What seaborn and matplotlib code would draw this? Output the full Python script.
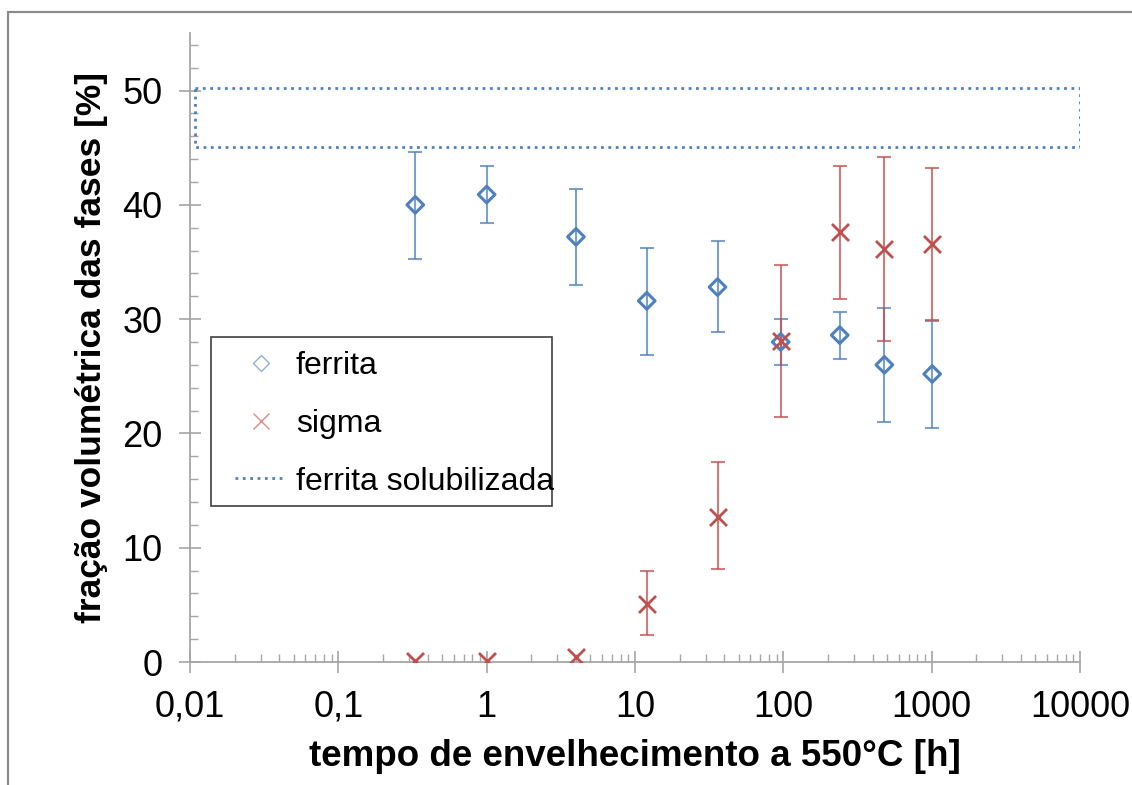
import numpy as np
import pandas as pd
import matplotlib
matplotlib.use("Agg")
import matplotlib.pyplot as plt
import seaborn as sns
from matplotlib.lines import Line2D
from matplotlib.patches import Rectangle
from matplotlib.ticker import FixedLocator, MultipleLocator, FixedFormatter

# ---------------- data ----------------
tempo = [0.33, 1, 4, 12, 36, 96, 240, 480, 1008]
ferrita = [40.0, 40.9, 37.2, 31.6, 32.8, 28.0, 28.6, 26.0, 25.2]
ferrita_low = [35.3, 38.4, 33.0, 26.9, 28.9, 26.0, 26.5, 21.0, 20.5]
ferrita_high = [44.6, 43.4, 41.4, 36.2, 36.8, 30.0, 30.6, 31.0, 29.8]
sigma = [0.1, 0.1, 0.4, 5.1, 12.7, 28.1, 37.6, 36.1, 36.6]
sigma_low = [None, None, None, 2.4, 8.1, 21.4, 31.8, 28.1, 29.9]
sigma_high = [None, None, None, 8.0, 17.5, 34.7, 43.4, 44.2, 43.2]
sol_x = [0.0108, 10000, 10000, 0.0108, 0.0108]
sol_y = [50.2, 50.2, 45.1, 45.1, 50.2]
xticks = [0.01, 0.1, 1, 10, 100, 1000, 10000]
xticklabels = ["0,01", "0,1", "1", "10", "100", "1000", "10000"]
yticks = [0, 10, 20, 30, 40, 50]

BLUE = "#4F81BD"
RED = "#C0504D"
GRAY = "#A6A6A6"

sns.set_style("white")
plt.rcParams["font.family"] = ["Liberation Sans", "DejaVu Sans"]
plt.rcParams["text.color"] = "black"
plt.rcParams["axes.labelcolor"] = "black"

fig = plt.figure(figsize=(11.32, 7.85), dpi=100)
W, H = 1132, 785
ax = fig.add_axes([190/W, 1-662/H, 890/W, (662-33.4)/H])

df_f = pd.DataFrame({"t": tempo, "v": ferrita})
df_s = pd.DataFrame({"t": tempo, "v": sigma})
df_sol = pd.DataFrame({"t": sol_x, "v": sol_y})

# ferrita solubilizada rectangle (dotted)
sns.lineplot(data=df_sol, x="t", y="v", sort=False, estimator=None, ax=ax,
             color=BLUE, lw=2.0, linestyle=":", legend=False)

# error bars
f_err = np.array([[f - lo for f, lo in zip(ferrita, ferrita_low)],
                  [hi - f for f, hi in zip(ferrita, ferrita_high)]])
ax.errorbar(tempo, ferrita, yerr=f_err, fmt="none", ecolor=BLUE, alpha=0.75,
            elinewidth=1.5, capsize=5, capthick=1.5, zorder=2)
idx = [i for i, lo in enumerate(sigma_low) if lo is not None]
s_t = [tempo[i] for i in idx]
s_v = [sigma[i] for i in idx]
s_err = np.array([[sigma[i] - sigma_low[i] for i in idx],
                  [sigma_high[i] - sigma[i] for i in idx]])
ax.errorbar(s_t, s_v, yerr=s_err, fmt="none", ecolor=RED, alpha=0.75,
            elinewidth=1.5, capsize=5, capthick=1.5, zorder=2)

# markers
sns.scatterplot(data=df_f, x="t", y="v", ax=ax, marker="D", s=72,
                facecolors="none", edgecolor=BLUE, linewidth=2.2, zorder=4, legend=False)
sns.scatterplot(data=df_s, x="t", y="v", ax=ax, marker="x", s=150,
                color=RED, linewidth=2.0, zorder=5, legend=False)

ax.set_xscale("log")
ax.set_xlim(0.01, 10000)
ax.set_ylim(0, 55)

ax.xaxis.set_major_locator(FixedLocator(xticks))
ax.xaxis.set_major_formatter(FixedFormatter(xticklabels))
minors = [d * m for d in xticks[:-1] for m in range(2, 10)]
ax.xaxis.set_minor_locator(FixedLocator(minors))
ax.yaxis.set_major_locator(FixedLocator(yticks))
ax.yaxis.set_minor_locator(MultipleLocator(2))

for s in ["top", "right"]:
    ax.spines[s].set_visible(False)
for s in ["left", "bottom"]:
    ax.spines[s].set_color(GRAY)
    ax.spines[s].set_linewidth(1.3)

ax.tick_params(axis="both", which="both", bottom=True, left=True, top=False, right=False)
ax.tick_params(axis="both", which="major", direction="inout", length=16,
               width=1.2, color=GRAY, labelsize=26, labelcolor="black")
ax.tick_params(axis="both", which="minor", direction="in", length=6,
               width=1.0, color=GRAY)
ax.tick_params(axis="x", which="major", pad=12)
ax.tick_params(axis="y", which="major", pad=12)

ax.set_xlabel("tempo de envelhecimento a 550°C [h]", fontsize=26.5, fontweight="bold", labelpad=10)
ax.set_ylabel("fração volumétrica das fases [%]", fontsize=25.5, fontweight="bold", labelpad=10)

handles = [
    Line2D([], [], marker="D", linestyle="none", markerfacecolor="none",
           markeredgecolor="#8FB0DA", markersize=8, markeredgewidth=1.0),
    Line2D([], [], marker="x", linestyle="none", color="#E08A88",
           markersize=12, markeredgewidth=1.0),
    Line2D([], [], linestyle=":", color=BLUE, lw=2.0),
]
labels = ["ferrita", "sigma", "ferrita solubilizada"]
ax_h = 662 - 33.4
leg = ax.legend(handles, labels, loc="upper left",
                bbox_to_anchor=((235-190)/890, (662-351)/ax_h),
                borderaxespad=0, borderpad=0, fontsize=23, frameon=False,
                handlelength=1.6, handletextpad=0.3, labelspacing=0.87)
ax.add_patch(Rectangle(((211-190)/890, (662-506)/ax_h), (552-211)/890, (506-337)/ax_h,
                       transform=ax.transAxes, fill=True, facecolor="white",
                       edgecolor="#404040", linewidth=1.2, zorder=6, clip_on=False))
leg.set_zorder(7)

# outer chart border
fig.patches.append(Rectangle((8/W, -0.2), 1.5, 1.2 - 12/H,
                             transform=fig.transFigure, fill=False,
                             edgecolor="#8C8C8C", linewidth=1.6))

fig.savefig("out.png", dpi=100)
